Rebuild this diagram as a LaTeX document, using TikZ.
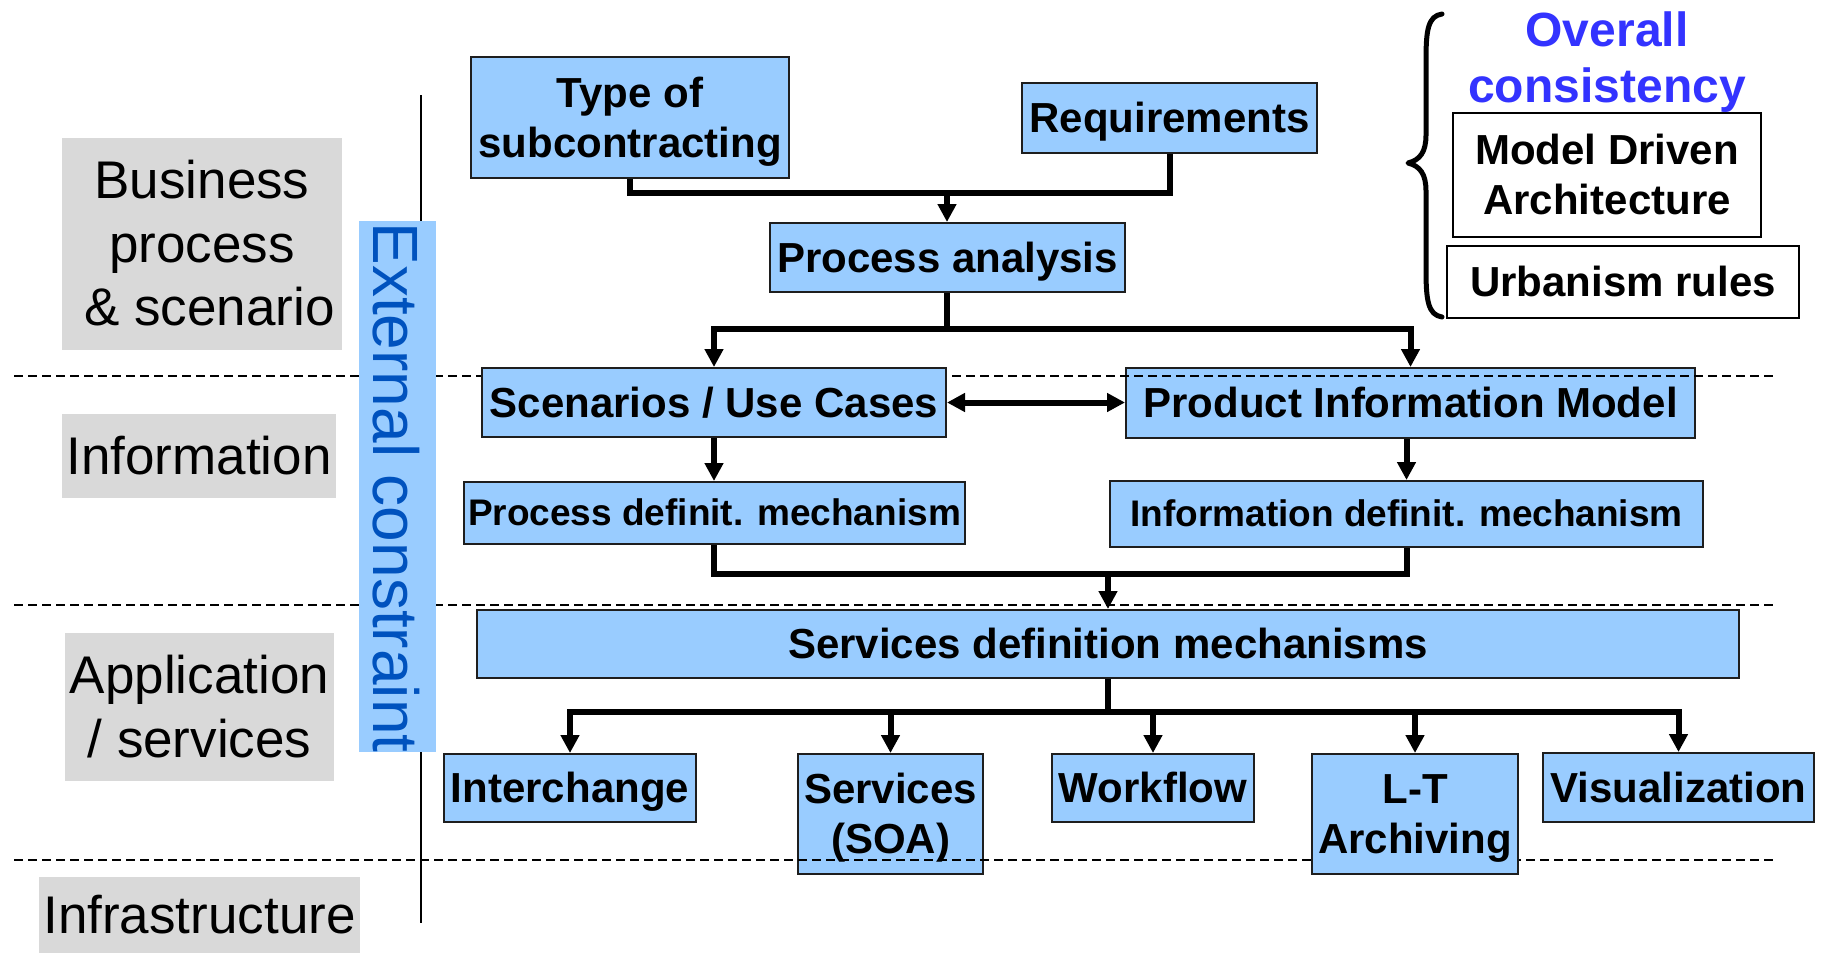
\documentclass[tikz,border=0pt]{standalone}
\usepackage{fontspec}
\setmainfont{Liberation Sans}
\usetikzlibrary{arrows.meta}
\definecolor{boxblue}{RGB}{153,204,255}
\definecolor{labelgray}{RGB}{217,217,217}
\definecolor{ectext}{RGB}{0,82,190}
\definecolor{ocblue}{RGB}{51,51,255}
\definecolor{edgegray}{RGB}{30,30,30}
\newcommand\pptstrut{\rule[-0.212em]{0pt}{1.117em}}
\begin{document}
\begin{tikzpicture}[x=1pt,y=-1pt,
  pptnode/.style={inner sep=0pt, align=center,
    execute at begin node=\pptstrut},
  bluebox/.style={pptnode, draw=edgegray, line width=2pt, fill=boxblue,
    font=\fontsize{42}{50}\selectfont\bfseries},
  smalltext/.style={font=\fontsize{37}{44}\selectfont\bfseries},
  whitebox/.style={pptnode, draw=black, line width=2pt, fill=white,
    font=\fontsize{42}{50}\selectfont\bfseries},
  graylabel/.style={pptnode, fill=labelgray, font=\fontsize{53}{63.5}\selectfont},
  conn/.style={line width=6pt},
  arr/.style={line width=6pt, -{Triangle[length=18pt,width=18pt]}},
  dblarr/.style={line width=6pt, {Triangle[length=18pt,width=18pt]}-{Triangle[length=18pt,width=18pt]}},
  sepline/.style={line width=1.5pt, dash pattern=on 9pt off 5pt},
]
\useasboundingbox (0,0) rectangle (1827,954);
\fill[white] (0,0) rectangle (1827,954);

% left layer labels
\node[graylabel, minimum width=280pt, minimum height=212pt] (biz) at (202,244) {\pptstrut Business\\process\\\pptstrut\hspace*{0.278em}\& scenario};
\node[graylabel, minimum width=274pt, minimum height=84pt] (info) at (199,456) {Information};
\node[graylabel, minimum width=269pt, minimum height=148pt] (app) at (199.5,707) {\pptstrut Application\\/ services\pptstrut};
\node[graylabel, minimum width=321pt, minimum height=76pt] (infra) at (199.5,915) {Infrastructure};

% thin vertical line
\draw[line width=1.5pt] (421,95) -- (421,923);

% boxes lying under the separators
\node[bluebox, minimum width=569pt, minimum height=70pt] (pim) at (1410.5,403) {Product Information Model};
\node[bluebox, minimum width=185pt, minimum height=120pt] (soa) at (890.5,814) {\pptstrut Services\\(SOA)\pptstrut};

% dashed separators
\draw[sepline] (14,376) -- (1774,376);
\draw[sepline] (14,605) -- (1774,605);
\draw[sepline] (14,860) -- (1774,860);

% external constraint bar
\fill[boxblue] (359,221) rectangle (436,752);
\node[rotate=-90, inner sep=0pt, text=ectext, font=\fontsize{64}{64}\selectfont] (ext) at (396,487.5) {External constraint};

% remaining boxes
\node[bluebox, minimum width=318pt, minimum height=121pt] (tos) at (630,117.5) {\pptstrut Type of\\subcontracting\pptstrut};
\node[bluebox, minimum width=295pt, minimum height=70pt] (req) at (1169.5,118) {Requirements};
\node[bluebox, minimum width=355pt, minimum height=69pt] (pa) at (947.5,257.5) {Process analysis};
\node[bluebox, minimum width=464pt, minimum height=69pt] (suc) at (714,402.5) {Scenarios / Use Cases};
\node[bluebox, smalltext, minimum width=501pt, minimum height=62pt] (pdm) at (714.5,513) {Process definit. mechanism};
\node[bluebox, smalltext, minimum width=593pt, minimum height=66pt] (idm) at (1406.5,514) {Information definit. mechanism};
\node[bluebox, minimum width=1262pt, minimum height=68pt] (sdm) at (1108,644) {Services definition mechanisms};
\node[bluebox, minimum width=252pt, minimum height=68pt] (ich) at (570,788) {Interchange};
\node[bluebox, minimum width=202pt, minimum height=68pt] (wf) at (1153,788) {Workflow};
\node[bluebox, minimum width=206pt, minimum height=120pt] (lta) at (1415,814) {\pptstrut L-T\\Archiving\pptstrut};
\node[bluebox, minimum width=271pt, minimum height=69pt] (vis) at (1678.5,787.5) {Visualization};

% right side
\node[pptnode, text=ocblue, font=\fontsize{48}{56}\selectfont\bfseries] (oc) at (1607,58) {\pptstrut Overall\\consistency\pptstrut};
\node[whitebox, minimum width=308pt, minimum height=124pt] (mda) at (1607,175) {\pptstrut Model Driven\\Architecture\pptstrut};
\node[whitebox, minimum width=352pt, minimum height=72pt] (urb) at (1623,282) {Urbanism rules};
\draw[line width=5pt, line cap=round, line join=round]
  (1442,14) .. controls (1428,16) and (1426,30) .. (1426,60)
  -- (1426,135) .. controls (1426,152) and (1420,160) .. (1408,163)
  .. controls (1420,166) and (1426,174) .. (1426,191)
  -- (1426,270) .. controls (1426,300) and (1428,315) .. (1442,317);

% connectors
\coordinate (j1) at (947,193);
\draw[conn] (tos.south) |- (j1);
\draw[conn] (req.south) |- (j1);
\draw[arr] (j1) -- (j1 |- pa.north);

\coordinate (j2) at (947,329);
\draw[conn] (pa.south -| j2) -- (j2);
\draw[arr] (j2) -| (suc.north);
\draw[arr] (j2) -| (pim.north);

\draw[dblarr] (suc.east) -- (suc.east -| pim.west);

\draw[arr] (suc.south) -- (pdm.north -| suc.south);
\draw[arr] (pim.south -| idm.north) -- (idm.north);

\coordinate (j3) at (1108,574);
\draw[conn] (pdm.south -| suc.south) |- (j3);
\draw[conn] (idm.south) |- (j3);
\draw[arr] (j3) -- (j3 |- sdm.north);

\coordinate (j4) at (1108,712);
\draw[conn] (sdm.south -| j4) -- (j4);
\draw[arr] (j4) -| (ich.north);
\draw[arr] (j4) -| (soa.north);
\draw[arr] (j4) -| (wf.north);
\draw[arr] (j4) -| (lta.north);
\draw[arr] (j4) -| (vis.north);
\end{tikzpicture}
\end{document}
